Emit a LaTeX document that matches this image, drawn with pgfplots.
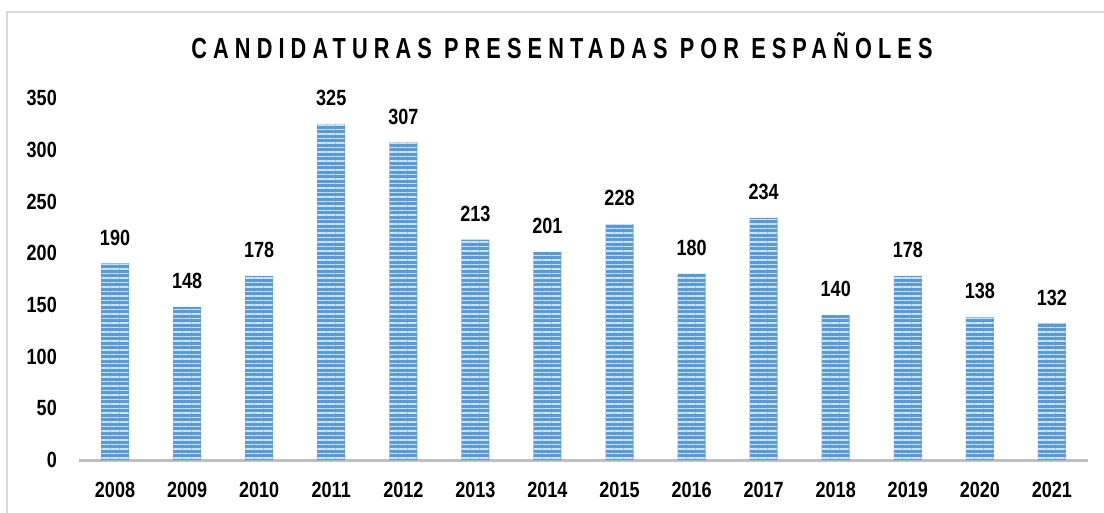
\documentclass[border=0pt]{standalone}
\usepackage{fontspec}
\setmainfont[FakeStretch=0.82]{Liberation Sans}
\newfontfamily\titlefont[FakeStretch=0.75,LetterSpace=21]{Liberation Sans}
\usepackage{pgfplots}
\pgfplotsset{compat=1.18}
\usetikzlibrary{patterns.meta}
\definecolor{bardark}{RGB}{91,155,213}
\definecolor{barlight}{RGB}{205,225,244}
\definecolor{axisgray}{RGB}{191,191,191}
\definecolor{framegray}{RGB}{217,217,217}
\begin{document}
\begin{tikzpicture}
\useasboundingbox (-79pt,-52pt) rectangle (1025pt,460pt);
\draw[framegray, line width=1.2pt] (-72pt,-60pt) -- (-72pt,448pt) -- (1030pt,448pt);
\begin{axis}[
    at={(0pt,0pt)}, anchor=south west,
    scale only axis,
    width=1009pt, height=362pt,
    xmin=-0.5, xmax=13.5,
    ymin=0, ymax=350,
    ytick={0,50,100,150,200,250,300,350},
    xtick={0,...,13},
    xticklabels={2008,2009,2010,2011,2012,2013,2014,2015,2016,2017,2018,2019,2020,2021},
    axis x line=bottom, axis y line=left,
    axis line style={-},
    y axis line style={draw=none},
    x axis line style={draw=axisgray, line width=3pt},
    major tick length=0pt,
    /pgf/number format/assume math mode=true,
    ticklabel style={font=\bfseries\fontsize{22}{22}\selectfont, inner sep=0pt},
    yticklabel style={anchor=east, xshift=-22pt},
    xticklabel style={anchor=north, yshift=-22pt},
    ybar, bar width=28pt,
    nodes near coords,
    nodes near coords style={font=\bfseries\fontsize{22}{22}\selectfont, inner sep=0pt, anchor=south, yshift=18pt},
    clip=false,
]
\addplot[draw=none, fill=bardark,
    postaction={pattern={Lines[angle=0, distance=4.5pt, line width=1.8pt]}, pattern color=barlight}]
  coordinates {(0,190) (1,148) (2,178) (3,325) (4,307) (5,213) (6,201)
               (7,228) (8,180) (9,234) (10,140) (11,178) (12,138) (13,132)};
\end{axis}
\node[inner sep=0pt, anchor=base] at (483pt,401pt) {\titlefont\bfseries\fontsize{29}{29}\selectfont CANDIDATURAS PRESENTADAS POR ESPAÑOLES};
\end{tikzpicture}
\end{document}
